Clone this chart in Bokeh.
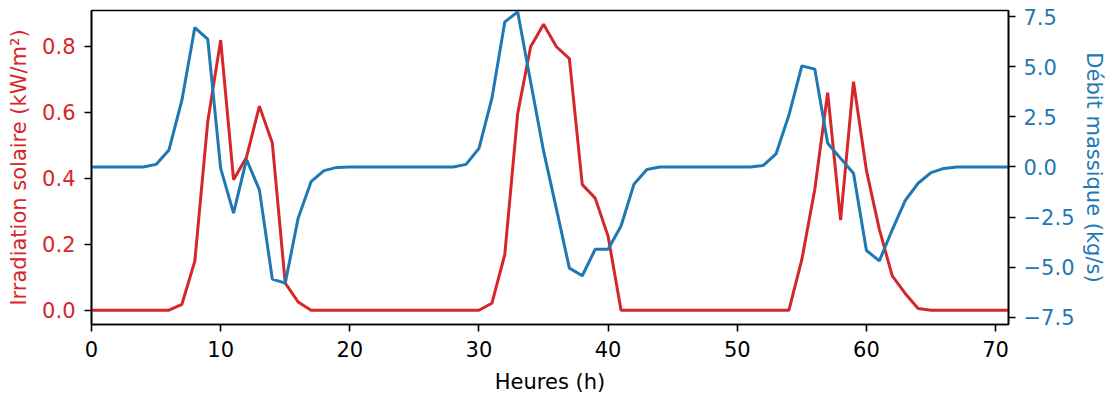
from bokeh.plotting import figure
from bokeh.models import Range1d, LinearAxis, FixedTicker, CustomJSTickFormatter
from bokeh.embed import file_html
from bokeh.resources import INLINE

hours = list(range(72))

irradiation = [
    0, 0, 0, 0, 0, 0, 0, 0.018, 0.149, 0.572,
    0.819, 0.396, 0.464, 0.619, 0.507, 0.082, 0.025, 0, 0, 0,
    0, 0, 0, 0, 0, 0, 0, 0, 0, 0,
    0, 0.021, 0.169, 0.597, 0.799, 0.867, 0.799, 0.763, 0.381, 0.340,
    0.224, 0, 0, 0, 0, 0, 0, 0, 0, 0,
    0, 0, 0, 0, 0, 0.154, 0.366, 0.660, 0.273, 0.693,
    0.424, 0.245, 0.104, 0.051, 0.005, 0, 0, 0, 0, 0,
    0, 0,
]

debit = [
    0, 0, 0, 0, 0, 0.13, 0.85, 3.33, 6.95, 6.37,
    -0.07, -2.30, 0.38, -1.14, -5.59, -5.79, -2.55, -0.73, -0.18, -0.02,
    0, 0, 0, 0, 0, 0, 0, 0, 0, 0.13,
    0.93, 3.42, 7.23, 7.73, 4.25, 0.80, -2.10, -5.04, -5.42, -4.10,
    -4.10, -2.94, -0.86, -0.12, 0, 0, 0, 0, 0, 0,
    0, 0, 0.07, 0.65, 2.59, 5.04, 4.88, 1.18, 0.43, -0.31,
    -4.16, -4.68, -3.13, -1.68, -0.81, -0.28, -0.07, 0, 0, 0,
    0, 0,
]

x_ticks = [0, 10, 20, 30, 40, 50, 60, 70]
left_ticks = [0.0, 0.2, 0.4, 0.6, 0.8]
right_ticks = [-7.5, -5.0, -2.5, 0.0, 2.5, 5.0, 7.5]

RED = "#d62728"
BLUE = "#1f77b4"
FONT = "DejaVu Sans"
FS = "21px"

p = figure(width=1109, height=396, output_backend="svg", toolbar_location=None,
           x_range=Range1d(0, 71), y_range=Range1d(-0.0433, 0.909),
           min_border_left=91, min_border_right=101, min_border_top=10,
           min_border_bottom=71)
p.extra_y_ranges = {"debit": Range1d(-7.85, 7.8)}
p.xgrid.visible = False
p.ygrid.visible = False
p.outline_line_color = "black"
p.outline_line_width = 1.6
p.outline_line_alpha = 1.0
p.background_fill_color = "white"
p.border_fill_color = "white"

p.line(hours, irradiation, color=RED, line_width=3)
p.line(hours, debit, color=BLUE, line_width=3, y_range_name="debit")

fmt = CustomJSTickFormatter(code="return tick.toFixed(1).replace('-', '\u2212');")


def style(ax, label_color):
    ax.axis_line_color = "black"
    ax.axis_line_width = 1.6
    ax.major_tick_line_color = "black"
    ax.major_tick_line_width = 1.6
    ax.major_tick_out = 7
    ax.major_tick_in = 0
    ax.minor_tick_out = 0
    ax.minor_tick_in = 0
    ax.major_label_text_font = FONT
    ax.major_label_text_font_size = FS
    ax.major_label_text_color = label_color
    ax.axis_label_text_font = FONT
    ax.axis_label_text_font_size = FS
    ax.axis_label_text_font_style = "normal"
    ax.axis_label_text_color = label_color
    ax.major_label_standoff = 7
    ax.axis_label_standoff = 8


xa = p.xaxis[0]
style(xa, "black")
xa.ticker = FixedTicker(ticks=x_ticks)
xa.axis_label = "Heures (h)"
xa.major_label_standoff = 9
xa.axis_label_standoff = 10

ya = p.yaxis[0]
style(ya, RED)
ya.ticker = FixedTicker(ticks=left_ticks)
ya.formatter = CustomJSTickFormatter(code="return tick.toFixed(1);")
ya.axis_label = "Irradiation solaire (kW/m²)"
ya.major_label_standoff = 9

ra = LinearAxis(y_range_name="debit")
style(ra, BLUE)
ra.ticker = FixedTicker(ticks=right_ticks)
ra.formatter = fmt
ra.axis_label = "Débit massique (kg/s)"
ra.major_label_standoff = 8
ra.axis_label_standoff = 5
p.add_layout(ra, "right")

open("out.html", "w").write(file_html(p, INLINE))
